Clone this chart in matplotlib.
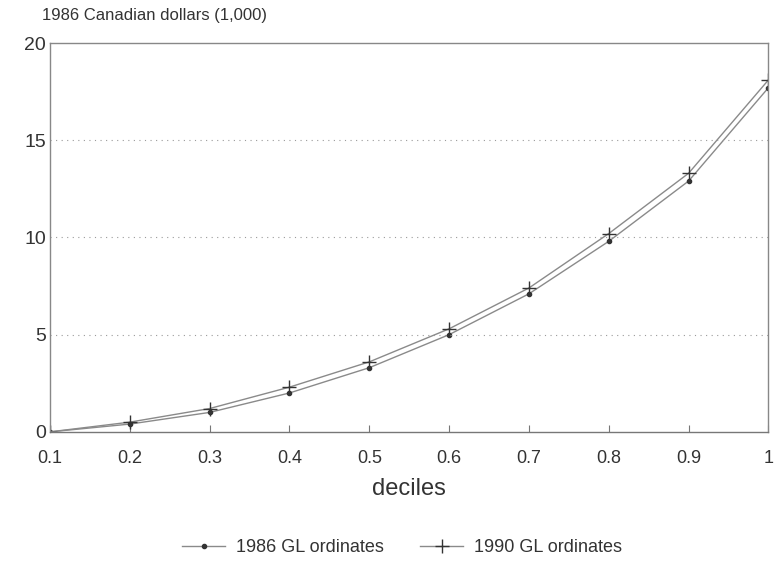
import matplotlib
matplotlib.use("Agg")
import matplotlib.pyplot as plt

# deciles and generalised Lorenz ordinates (1986 Canadian dollars, thousands)
deciles = [0.1, 0.2, 0.3, 0.4, 0.5, 0.6, 0.7, 0.8, 0.9, 1.0]
gl_1986 = [0.0, 0.4, 1.0, 2.0, 3.3, 5.0, 7.1, 9.8, 12.9, 17.7]
gl_1990 = [0.0, 0.5, 1.2, 2.3, 3.6, 5.3, 7.4, 10.2, 13.3, 18.1]

xtick_labels = ["0.1", "0.2", "0.3", "0.4", "0.5", "0.6", "0.7", "0.8", "0.9", "1"]
yticks = [0, 5, 10, 15, 20]

plt.rcParams["font.family"] = ["Liberation Sans", "DejaVu Sans"]

fig = plt.figure(figsize=(7.75, 5.66), dpi=100)
ax = fig.add_axes([0.0645, 0.237, 0.927, 0.687])

line_col = "#8a8a8a"

ax.plot(deciles, gl_1986, color=line_col, linewidth=1.0,
        marker=".", markersize=6, markerfacecolor="#333333",
        markeredgecolor="#333333", label="1986 GL ordinates")
ax.plot(deciles, gl_1990, color=line_col, linewidth=1.0,
        marker="+", markersize=10, markeredgewidth=1.0,
        markeredgecolor="#333333", label="1990 GL ordinates")

ax.set_xlim(0.1, 1.0)
ax.set_ylim(0, 20)
ax.set_xticks(deciles)
ax.set_xticklabels(xtick_labels, fontsize=13, color="#333333")
ax.set_yticks(yticks)
ax.set_yticklabels([str(v) for v in yticks], fontsize=14, color="#333333")

ax.tick_params(axis="x", direction="in", length=5, color="#777777", pad=13)
ax.tick_params(axis="y", length=0, pad=3)

# dotted horizontal grid
for v in [5, 10, 15]:
    ax.axhline(v, color="#9a9a9a", linewidth=0.8, linestyle=(0, (1, 4)))

for side in ["top", "right", "left"]:
    ax.spines[side].set_color("#888888")
    ax.spines[side].set_linewidth(1.0)
    ax.spines[side].set_linestyle((0, (1, 1)))
ax.spines["bottom"].set_color("#777777")
ax.spines["bottom"].set_linewidth(1.0)

ax.set_xlabel("deciles", fontsize=17, color="#333333", labelpad=8)

fig.text(0.054, 0.972, "1986 Canadian dollars (1,000)", fontsize=12,
         color="#333333", va="center", ha="left")

ax.legend(loc="center", bbox_to_anchor=(0.49, -0.298), ncol=2, frameon=False,
          fontsize=13, handlelength=2.4, handletextpad=0.6,
          columnspacing=2.0, labelcolor="#333333")

fig.savefig("out.png", dpi=100)
